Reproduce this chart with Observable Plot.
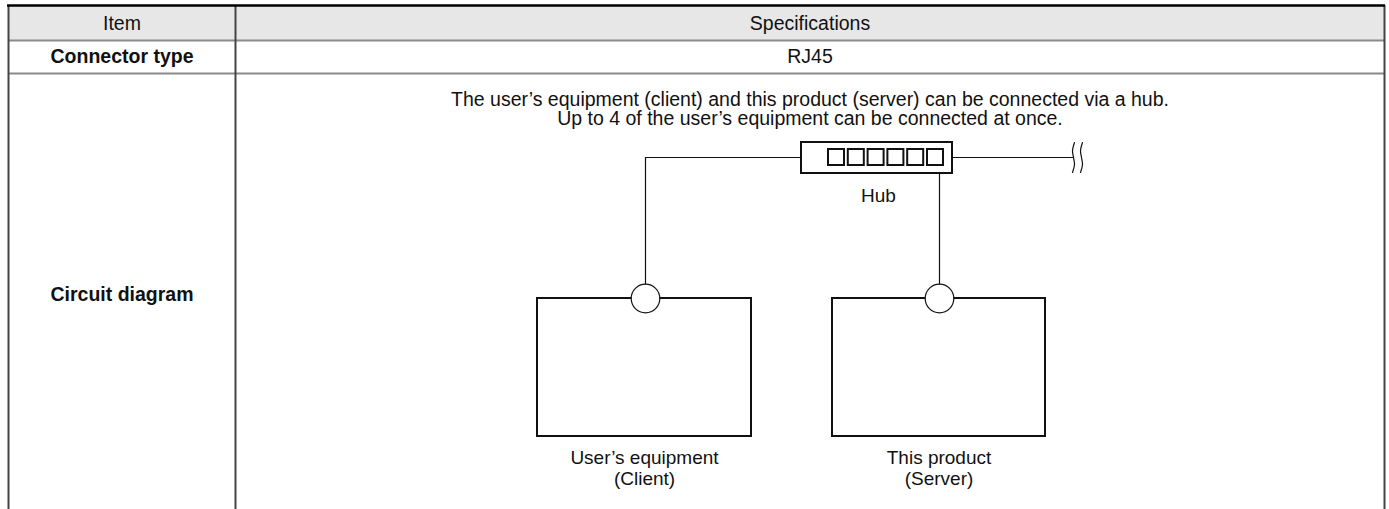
<!DOCTYPE html>
<html>
<head>
<meta charset="utf-8">
<script src="https://cdn.jsdelivr.net/npm/d3@7"></script>
<script src="https://cdn.jsdelivr.net/npm/@observablehq/plot@0.6"></script>
<style>
  html, body { margin: 0; padding: 0; background: #fff; }
  #chart svg { display: block; }
</style>
</head>
<body>
<div id="chart"></div>
<script>
// ---- content (text) ----
const headers = ["Item", "Specifications"];
const rowItems = ["Connector type", "Circuit diagram"];
const rowSpecs = ["RJ45"];
const noteLines = [
  "The user\u2019s equipment (client) and this product (server) can be connected via a hub.",
  "Up to 4 of the user\u2019s equipment can be connected at once."
];
const nodeNames = ["User\u2019s equipment\n(Client)", "This product\n(Server)"];
const hubLabel = "Hub";
const hubPortCount = 6;

// ---- layout (page geometry in px) ----
const W = 1389, H = 509;
const T = { left: 8, mid: 235, right: 1384, top: 5, headBottom: 40, row2Bottom: 73 };
const colCenters = [(T.left + T.mid) / 2, (T.mid + T.right) / 2];
const rowCentersY = [23, 56.5, 294];
const noteCenterY = 108.5;
const hub = { x1: 801, x2: 952, y1: 142, y2: 173, lineY: 157, portX0: 828, portPitch: 19.8, portW: 16, portY1: 149, portY2: 165, labelX: 878, labelY: 195 };
const nodes = [
  { x1: 537, x2: 751, y1: 298, y2: 436, jackX: 645 },
  { x1: 832, x2: 1045, y1: 298, y2: 436, jackX: 939 }
];
const jackR = 14.3;
const lineEndX = 1073;
const waveXs = [1073, 1081];
const waveOffsets = [[1, 142], [-1, 150], [0, 157], [1, 164], [-1, 172]];
const labelY = 467;

const font = "'Liberation Sans', Arial, Helvetica, sans-serif";
const ink = "#111";

// derived mark data
const ports = d3.range(hubPortCount).map(i => ({
  x1: hub.portX0 + i * hub.portPitch, x2: hub.portX0 + i * hub.portPitch + hub.portW,
  y1: hub.portY1, y2: hub.portY2
}));
const wires = [
  ...[[hub.x1, hub.lineY], [nodes[0].jackX, hub.lineY], [nodes[0].jackX, nodes[0].y1 - jackR]].map(([x, y]) => ({ x, y, k: "a" })),
  ...[[nodes[1].jackX, hub.y2], [nodes[1].jackX, nodes[1].y1 - jackR]].map(([x, y]) => ({ x, y, k: "b" })),
  ...[[hub.x2, hub.lineY], [lineEndX, hub.lineY]].map(([x, y]) => ({ x, y, k: "c" }))
];
const waves = waveXs.flatMap((wx, j) => waveOffsets.map(([dx, y]) => ({ x: wx + dx, y, k: j })));

const chart = Plot.plot({
  width: W, height: H, margin: 0,
  x: { domain: [0, W], range: [0, W], axis: null },
  y: { domain: [0, H], range: [0, H], axis: null },
  style: { fontFamily: font, background: "#fff", color: ink },
  marks: [
    // table header background
    Plot.rect([{ x1: T.left, x2: T.right, y1: T.top, y2: T.headBottom }], { x1: "x1", x2: "x2", y1: "y1", y2: "y2", fill: "#e6e7e6" }),
    // row separators
    Plot.ruleY([T.headBottom, T.row2Bottom], { y: d => d, x1: T.left, x2: T.right, stroke: "#8a8a8a", strokeWidth: 2 }),
    // column borders
    Plot.ruleX([T.left, T.mid, T.right], { x: d => d, y1: T.top, y2: H, stroke: "#444", strokeWidth: 2 }),
    // thick top rule
    Plot.ruleY([T.top], { y: d => d, x1: T.left - 1, x2: T.right + 1, stroke: "#000", strokeWidth: 2.5 }),
    // header texts
    Plot.text(headers, { x: (d, i) => colCenters[i], y: rowCentersY[0], text: d => d, fontSize: 19.5, fill: ink }),
    // item column (bold)
    Plot.text(rowItems, { x: colCenters[0], y: (d, i) => rowCentersY[i + 1], text: d => d, fontSize: 19.5, fontWeight: "bold", fill: ink }),
    // spec for connector
    Plot.text(rowSpecs, { x: colCenters[1], y: rowCentersY[1], text: d => d, fontSize: 19.5, fill: ink }),
    // note paragraph (two lines)
    Plot.text([noteLines.join("\n")], { x: colCenters[1], y: noteCenterY, text: d => d, fontSize: 19.5, lineHeight: 1.0, fill: ink }),
    // wires
    Plot.line(wires, { x: "x", y: "y", z: "k", stroke: ink, strokeWidth: 1.2 }),
    Plot.line(waves, { x: "x", y: "y", z: "k", stroke: ink, strokeWidth: 1.2, curve: "catmull-rom" }),
    // hub
    Plot.rect([hub], { x1: "x1", x2: "x2", y1: "y1", y2: "y2", fill: "#fff", stroke: ink, strokeWidth: 2 }),
    Plot.rect(ports, { x1: "x1", x2: "x2", y1: "y1", y2: "y2", fill: "#fff", stroke: ink, strokeWidth: 2 }),
    Plot.text([hubLabel], { x: hub.labelX, y: hub.labelY, text: d => d, fontSize: 19, fill: ink }),
    // equipment boxes
    Plot.rect(nodes, { x1: "x1", x2: "x2", y1: "y1", y2: "y2", fill: "#fff", stroke: ink, strokeWidth: 2 }),
    Plot.dot(nodes, { x: "jackX", y: "y1", r: jackR, fill: "#fff", stroke: ink, strokeWidth: 1.2 }),
    Plot.text(nodeNames, { x: (d, i) => (nodes[i].x1 + nodes[i].x2) / 2, y: labelY, text: d => d, fontSize: 19, lineHeight: 1.1, fill: ink })
  ]
});
document.getElementById("chart").appendChild(chart);
</script>
</body>
</html>
